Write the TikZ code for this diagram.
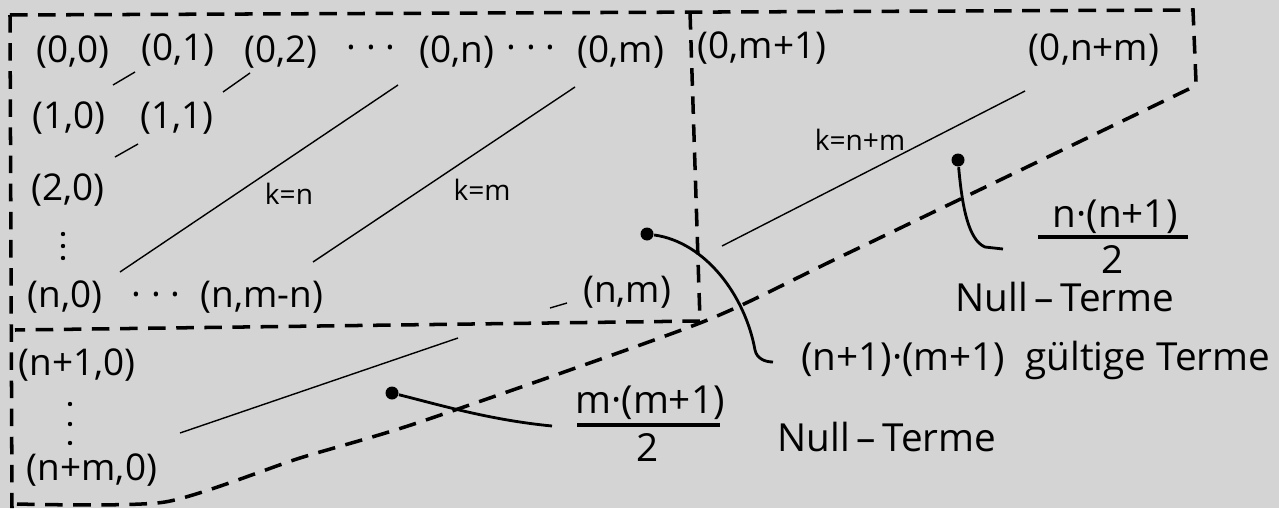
\documentclass[tikz,border=0pt]{standalone}
\usepackage{fontspec}
\setmainfont{Open Sans}
\usepackage{xcolor}
\usetikzlibrary{arrows.meta,positioning}
\definecolor{paper}{RGB}{212,212,212}

\begin{document}
\begin{tikzpicture}[
  x=1cm,y=1cm,
  term/.style={font=\fontsize{10.5}{13}\selectfont,inner sep=1pt},
  klabel/.style={font=\fontsize{8}{10}\selectfont,inner sep=1pt},
  note/.style={font=\fontsize{11}{14}\selectfont,inner sep=1pt},
  border/.style={line width=1pt,dash pattern=on 5pt off 3pt},
  diag/.style={thin},
  leader/.style={thick},
  bar/.style={line width=1pt},
  spot/.style={circle,fill=black,inner sep=0pt,minimum size=1.3mm}
]
\fill[paper] (0,0) rectangle (12.79,-5.08);
\useasboundingbox (0,0) rectangle (12.79,-5.08);

% frame of the index triangle
\draw[border] (0.10,-0.15) -- (11.93,-0.10) -- (11.96,-0.82);
\draw[border] (0.10,-0.15) -- (0.12,-5.08);
\draw[border] (6.90,-0.12) -- (7.00,-3.21) -- (0.15,-3.30);
\draw[border] plot[smooth,tension=.4] coordinates {(0.17,-5.04) (1.65,-5.02)
  (3.00,-4.58) (4.20,-4.22) (7.00,-3.23) (8.40,-2.57) (11.93,-0.87)}
  -- (11.96,-0.82);

% first row
\node[term] (p00) at (0.73,-0.52) {(0,0)};
\node[term] (p01) at (1.78,-0.50) {(0,1)};
\node[term] (p02) at (2.81,-0.52) {(0,2)};
\node[term] (r1) at (3.71,-0.53) {· · ·};
\node[term] (p0n) at (4.57,-0.52) {(0,n)};
\node[term] (r2) at (5.31,-0.53) {· · ·};
\node[term] (p0m) at (6.21,-0.52) {(0,m)};
\node[term] (p0m1) at (7.62,-0.48) {(0,m+1)};
\node[term] (p0nm) at (10.94,-0.50) {(0,n+m)};

% first column
\node[term] (p10) at (0.69,-1.18) {(1,0)};
\node[term] (p11) at (1.77,-1.18) {(1,1)};
\node[term] (p20) at (0.68,-1.90) {(2,0)};
\foreach \y in {-2.34,-2.46,-2.58}
  \fill (0.63,\y) circle (0.022);
\node[term] (pn0) at (0.65,-2.97) {(n,0)};
\node[term] (r3) at (1.56,-3.00) {· · ·};
\node[term] (pnmn) at (2.62,-2.97) {(n,m-n)};
\node[term] (pnm) at (6.27,-2.92) {(n,m)};
\node[term] (pn10) at (0.77,-3.65) {(n+1,0)};
\foreach \y in {-4.04,-4.24,-4.43}
  \fill (0.70,\y) circle (0.022);
\node[term] (pnm0) at (0.92,-4.70) {(n+m,0)};

% diagonals k = const
\draw[diag] (1.13,-0.85) -- (1.35,-0.72);
\draw[diag] (2.23,-0.92) -- (2.50,-0.73);
\draw[diag] (1.15,-1.57) -- (1.38,-1.44);
\draw[diag] (1.20,-2.72) -- (3.98,-0.85);
\draw[diag] (3.13,-2.62) -- (5.75,-0.87);
\draw[diag] (5.50,-3.08) -- (5.67,-3.03);
\draw[diag] (7.22,-2.46) -- (10.25,-0.91);
\draw[diag] (1.80,-4.33) -- (4.58,-3.38);
\node[klabel] (kn) at (2.89,-1.94) {k=n};
\node[klabel] (km) at (4.82,-1.90) {k=m};
\node[klabel] (knm) at (8.60,-1.40) {k=n+m};

% counts
\node[note] (numn) at (11.15,-2.17) {n·(n+1)};
\draw[bar] (10.38,-2.37) -- (11.88,-2.37);
\node[note] (denn) at (11.13,-2.59) {2};
\node[note] (nulln) at (10.65,-2.97) {Null\,--\,Terme};
\node[note] (numm) at (6.50,-4.03) {m·(m+1)};
\draw[bar] (5.77,-4.25) -- (7.20,-4.25);
\node[note] (denm) at (6.48,-4.47) {2};
\node[note] (nullm) at (8.87,-4.37) {Null\,--\,Terme};
\node[note,anchor=west] (valid) at (7.97,-3.60)
  {(n+1)·(m+1)\ \ gültige Terme};

\node[spot] (d1) at (6.47,-2.34) {};
\node[spot] (d2) at (9.58,-1.60) {};
\node[spot] (d3) at (3.92,-3.93) {};
\coordinate (e1) at (7.73,-3.62);
\coordinate (e2) at (10.03,-2.49);
\coordinate (e3) at (5.52,-4.26);
\draw[leader] (d1) .. controls (7.05,-2.42) and (7.45,-2.95) .. (7.55,-3.50)
  to[out=-78,in=180] (e1);
\draw[leader] (d2) .. controls (9.62,-2.05) and (9.68,-2.40) .. (9.85,-2.47)
  -- (e2);
\draw[leader] (d3) .. controls (4.40,-4.05) and (4.90,-4.20) .. (e3);
\end{tikzpicture}
\end{document}
